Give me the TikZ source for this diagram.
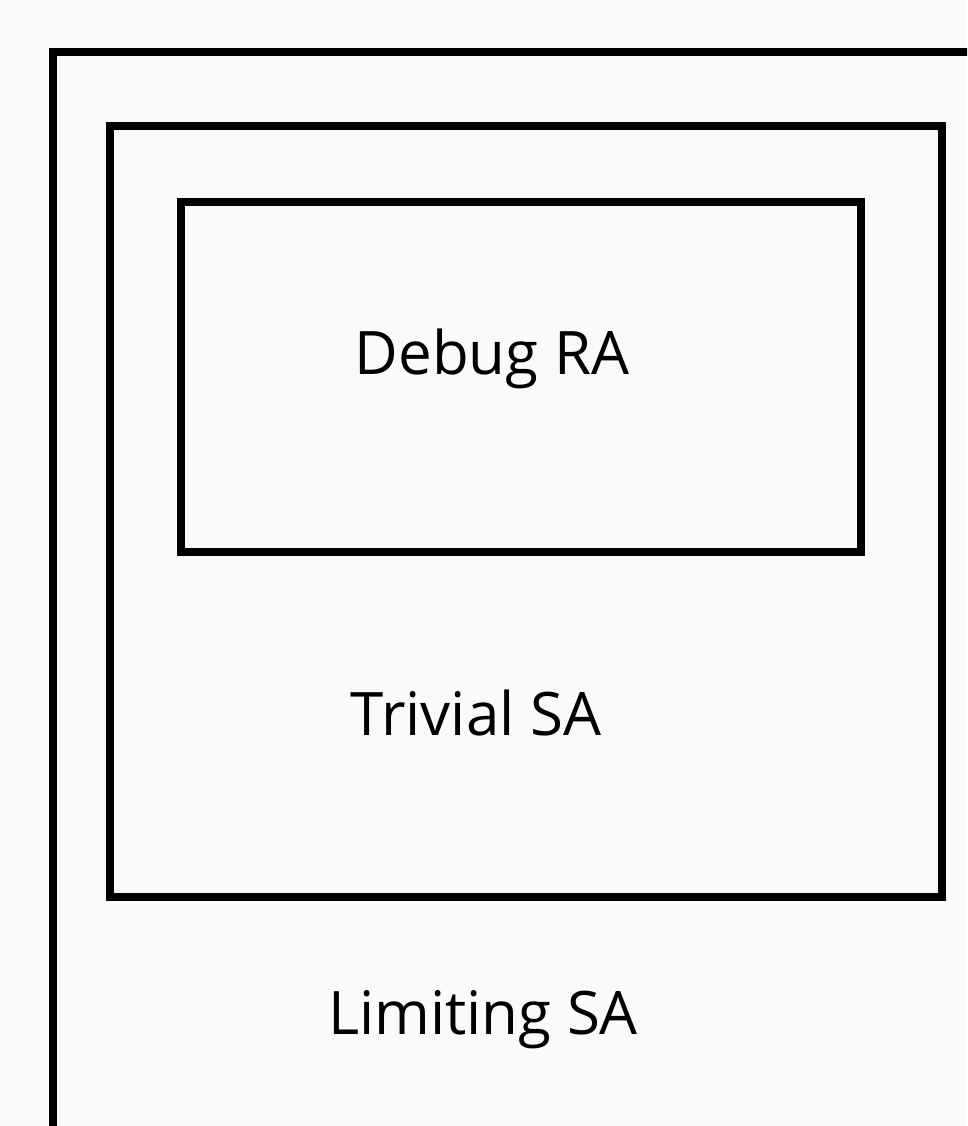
\documentclass[tikz,border=0pt]{standalone}
\usepackage{fontspec}
\setmainfont{Open Sans}[Ligatures=NoCommon]
\tikzset{every picture/.style={line width=8pt}}
\tikzset{
  area/.style={draw=black, line join=miter},
  label/.style={anchor=base, inner sep=0pt, font=\fontsize{60}{66}\selectfont},
}
\definecolor{paper}{HTML}{FAFAFA}

\begin{document}
\begin{tikzpicture}[x=1pt, y=-1pt]
  % canvas
  \fill[paper] (0,0) rectangle (967,1126);
  \useasboundingbox (0,0) rectangle (967,1126);
  \clip (0,0) rectangle (967,1126);
  % nested areas | outer one runs off the page
  \draw[area] (53,52) rectangle (1010,1190);
  \draw[area] (110,126) rectangle (942,897);
  \draw[area] (181,202) rectangle (861,552);
  % names
  \node[label] (debug) at (492,374) {Debug RA};
  \node[label] (trivial) at (476,735) {Trivial SA};
  \node[label] (limiting) at (483,1034) {Limiting SA};
\end{tikzpicture}
\end{document}
